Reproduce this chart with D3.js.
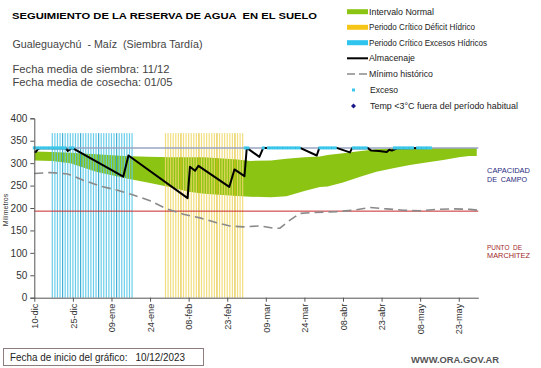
<!DOCTYPE html>
<html><head><meta charset="utf-8">
<script src="https://cdn.jsdelivr.net/npm/d3@7"></script>
<style>body{margin:0;background:#fff}svg{display:block}text{font-family:"Liberation Sans",Arial,sans-serif}</style>
</head><body><svg id="c" width="541" height="368"></svg>
<script>
// ---- data (days since 10-dic-2023) ----
const tickDays = [0,15,30,45,60,75,90,105,120,135,150,165];
const tickLabels = ["10-dic","25-dic","09-ene","24-ene","08-feb","23-feb","09-mar","24-mar","08-abr","23-abr","08-may","23-may"];
const yTicks = [0,50,100,150,200,250,300,350,400];
const capacidad = 334;
const marchitez = 193;
const bandDays  = [0,7,14,24,35,44,53,60,66,79,84,92,98,105,111,114,120,127,133,140,146,153,159,165,169,172];
const bandUpper = [326,325,323,320,316,314,313,313,313,308,305,306,310,313,315,318,322,327,331,333,334,334,334,334,334,334];
const bandLower = [306,305,300,281,267,257,246,236,232,227,225,224,226,238,247,248,257,270,281,289,296,302,307,313,316,316];
const excesoPeriodDays = d3.range(7,39);
const deficitPeriodDays = d3.range(51,82);
const periodValue = 367;
const storageDays = [0,0.6,1.2,2,12.3,13,14.7,34.6,36.6,59.6,60.5,62.5,63.8,75.8,77.8,81.7,82.6,87.5,89,103.3,109.8,110.8,117.5,122.7,123.5,129.5,131,134,137,138,139,141,154];
const storageVals = [326,325,330,333,333,327,334,270,317,222,292,283,294,247,286,271,334,314,334,334,317,334,334,324,333,334,328,327,325,330,328,333,334];
const minDays = [0,6,13,19,25.5,32,38.5,45,51.5,58,64.4,70.9,76,81.2,87.7,92.9,95.5,99.4,103.3,108.5,117.6,124,130.5,137,143.5,150,156.4,163,169.4,172.6];
const minVals = [277,279,276,262,249,240,229,216,198,186,178,167,160,158,160,155,155,173,188,190,192,195,201,198,195,194,197,198,197,195];
const excesoDays = [0,1,2,3,4,5,6,7,8,9,10,11,12,14,15,82,83,89,91,92,93,94,95,96,97,98,99,100,101,102,103,111,112,113,114,115,116,117,124,125,126,127,128,129,140,141,142,143,144,145,146,147,149,150,151,152,153,154];
const legendLabels = ["Intervalo Normal","Periodo Crítico Déficit Hídrico","Periodo Crítico Excesos Hídricos","Almacenaje","Mínimo histórico","Exceso","Temp <3°C fuera del período habitual"];

const svg = d3.select("#c");
const x = d3.scaleLinear().domain([0,172.6]).range([34.3,478.3]);
const y = d3.scaleLinear().domain([0,400]).range([297.7,118.3]);

// green band
const area = d3.area().x((d,i)=>x(bandDays[i])).y0((d,i)=>y(bandLower[i])).y1((d,i)=>y(bandUpper[i]));
svg.append("path").datum(bandDays).attr("d",area).attr("fill","#8cc414");
// period columns
svg.append("g").selectAll("rect").data(excesoPeriodDays).join("rect")
  .attr("x",d=>x(d)-0.6).attr("width",1.2).attr("y",y(periodValue)).attr("height",y(0)-y(periodValue))
  .attr("fill",(d,i)=> i%7===4 ? "#2ba6d0" : "#5cc8e8").attr("opacity",0.9);
svg.append("g").selectAll("rect").data(deficitPeriodDays).join("rect")
  .attr("x",d=>x(d)-0.6).attr("width",1.2).attr("y",y(periodValue)).attr("height",y(0)-y(periodValue))
  .attr("fill",(d,i)=> i%7===6 ? "#e0bc1c" : "#f0d868").attr("opacity",0.85);

// reference lines
svg.append("line").attr("x1",x(0)).attr("x2",x(172.6)).attr("y1",y(capacidad)).attr("y2",y(capacidad)).attr("stroke","#9aa4c4").attr("stroke-width",1.5);
svg.append("line").attr("x1",x(0)).attr("x2",x(172.6)).attr("y1",y(marchitez)).attr("y2",y(marchitez)).attr("stroke","#c8282a").attr("stroke-width",1);

// minimum historico
const ln = d3.line().x(d=>x(d[0])).y(d=>y(d[1]));
svg.append("path").datum(minDays.map((d,i)=>[d,minVals[i]])).attr("d",ln).attr("fill","none")
  .attr("stroke","#8a8a8a").attr("stroke-width",1.6).attr("stroke-dasharray","9,5");
// almacenaje
svg.append("path").datum(storageDays.map((d,i)=>[d,storageVals[i]])).attr("d",ln).attr("fill","none")
  .attr("stroke","#000").attr("stroke-width",2).attr("stroke-linejoin","round");
// exceso points
svg.append("g").selectAll("rect").data(excesoDays).join("rect")
  .attr("x",d=>x(d)-1.5).attr("y",y(capacidad)-1.5).attr("width",3).attr("height",3).attr("fill","#3cc8ec");

// axes
const ya = svg.append("g").attr("transform",`translate(${x(0)},0)`)
  .call(d3.axisLeft(y).tickValues(yTicks).tickSize(4).tickPadding(3));
ya.select(".domain").attr("stroke","#555");
ya.selectAll(".tick line").attr("stroke","#555");
ya.selectAll("text").attr("font-size",10).attr("fill","#333").attr("font-family","Liberation Sans, Arial");
const xa = svg.append("g").attr("transform",`translate(0,${y(0)})`)
  .call(d3.axisBottom(x).tickValues(tickDays).tickFormat((d,i)=>tickLabels[i]).tickSize(4).tickSizeOuter(0));
xa.select(".domain").attr("stroke","#555");
xa.selectAll(".tick line").attr("stroke","#555");
xa.selectAll("text").attr("font-size",9.2).attr("fill","#333").attr("font-family","Liberation Sans, Arial")
  .attr("transform","rotate(-90)").attr("text-anchor","end").attr("x",-6).attr("y",0).attr("dy","0.35em");

svg.append("text").attr("transform","translate(8,210) rotate(-90)").attr("text-anchor","middle")
  .attr("font-size",7).attr("fill","#333").text("Milímetros");

function fitText(sel, w){ sel.attr("textLength", w).attr("lengthAdjust","spacingAndGlyphs"); return sel; }

// titles
fitText(svg.append("text").attr("x",12).attr("y",19).attr("font-size",9.8).attr("font-weight","bold").attr("fill","#000")
  .attr("xml:space","preserve").text("SEGUIMIENTO DE LA RESERVA DE AGUA  EN EL SUELO"), 305);
fitText(svg.append("text").attr("x",12.5).attr("y",47.5).attr("font-size",10.3).attr("fill","#444").attr("xml:space","preserve")
  .text("Gualeguaychú  - Maíz  (Siembra Tardía)"), 190);
fitText(svg.append("text").attr("x",12.5).attr("y",73).attr("font-size",10.3).attr("fill","#444").text("Fecha media de siembra: 11/12"), 157);
fitText(svg.append("text").attr("x",12.5).attr("y",86.3).attr("font-size",10.3).attr("fill","#444").text("Fecha media de cosecha: 01/05"), 160);

// legend
const legY = [11.7,27.3,42.7,58.3,74,90,106];
const legW = [65,106,118,46,64,28,148];
const lg = svg.append("g");
lg.append("rect").attr("x",347).attr("y",legY[0]-2.5).attr("width",21).attr("height",5).attr("fill","#8cc414");
lg.append("rect").attr("x",347).attr("y",legY[1]-2.5).attr("width",21).attr("height",5).attr("fill","#f5c518");
lg.append("rect").attr("x",347).attr("y",legY[2]-2.5).attr("width",21).attr("height",5).attr("fill","#2fc4ee");
lg.append("line").attr("x1",347).attr("x2",368).attr("y1",legY[3]).attr("y2",legY[3]).attr("stroke","#000").attr("stroke-width",2);
lg.append("line").attr("x1",347).attr("x2",368).attr("y1",legY[4]).attr("y2",legY[4]).attr("stroke","#8a8a8a").attr("stroke-width",1.6).attr("stroke-dasharray","8,4");
lg.append("rect").attr("x",352).attr("y",legY[5]-1.5).attr("width",3).attr("height",3).attr("fill","#3cc8ec");
lg.append("path").attr("d",`M353.5,${legY[6]-2.5}L356,${legY[6]}L353.5,${legY[6]+2.5}L351,${legY[6]}Z`).attr("fill","#1a1a8c");
lg.selectAll("text").data(legendLabels).join("text").attr("x",(d,i)=>i>=5?370:369).attr("y",(d,i)=>legY[i]+2.8)
  .attr("font-size",8.2).attr("fill","#222").attr("textLength",(d,i)=>legW[i]).attr("lengthAdjust","spacingAndGlyphs").text(d=>d);

// right labels
fitText(svg.append("text").attr("x",487).attr("y",173.3).attr("font-size",7).attr("fill","#2a2a80").text("CAPACIDAD"),43);
fitText(svg.append("text").attr("x",487).attr("y",181.5).attr("font-size",7).attr("fill","#2a2a80").attr("xml:space","preserve").text("DE  CAMPO"),40);
fitText(svg.append("text").attr("x",487).attr("y",249.5).attr("font-size",7).attr("fill","#a02828").attr("xml:space","preserve").text("PUNTO  DE"),35);
fitText(svg.append("text").attr("x",487).attr("y",257.8).attr("font-size",7).attr("fill","#a02828").text("MARCHITEZ"),43);

// footer
svg.append("rect").attr("x",3.5).attr("y",348.5).attr("width",200).attr("height",17).attr("fill","#fff").attr("stroke","#8c7c7c");
fitText(svg.append("text").attr("x",10).attr("y",360.5).attr("font-size",10).attr("fill","#222").attr("xml:space","preserve")
  .text("Fecha de inicio del gráfico:   10/12/2023"),175);
fitText(svg.append("text").attr("x",411).attr("y",363.3).attr("font-size",8.6).attr("font-weight","bold").attr("fill","#555").text("WWW.ORA.GOV.AR"),88);
</script></body></html>
